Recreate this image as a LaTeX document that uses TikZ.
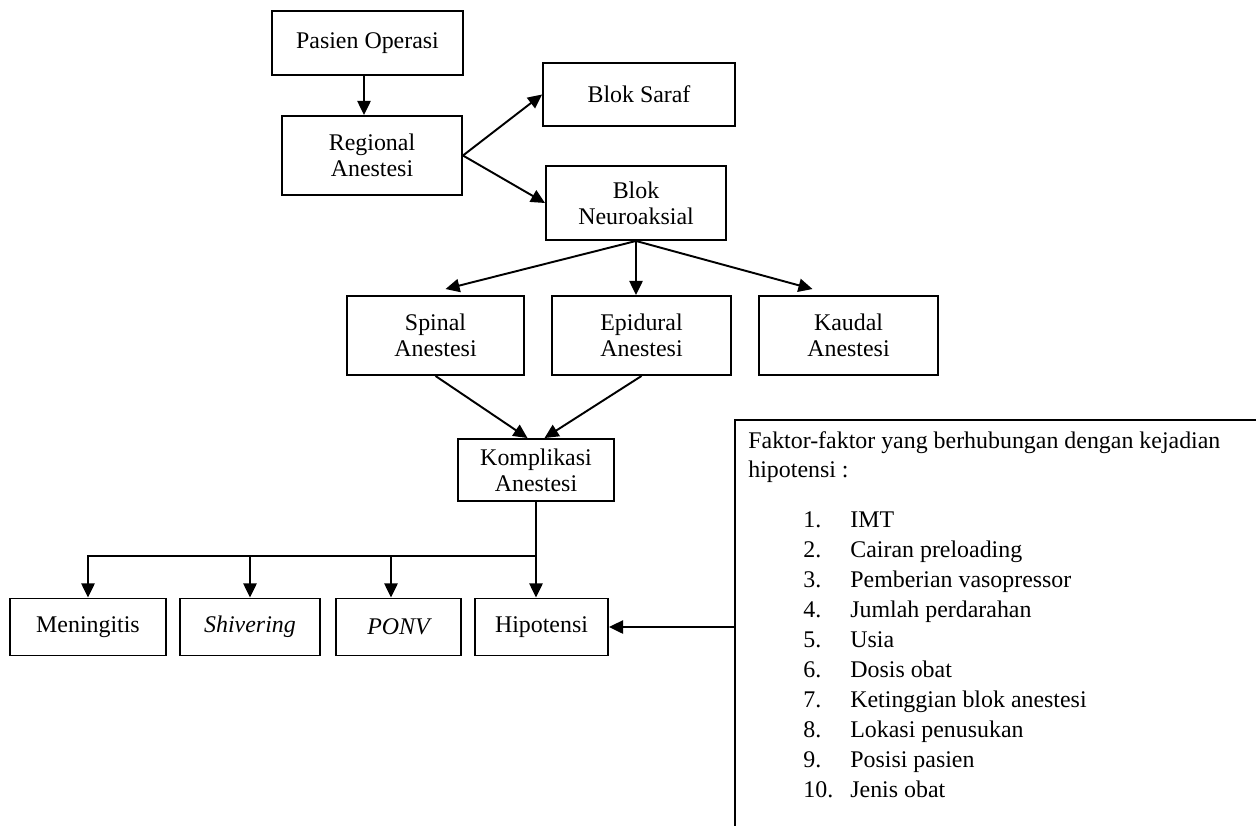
\documentclass[tikz,border=0pt]{standalone}
\usepackage{fontspec}
\setmainfont{Liberation Serif}
\usetikzlibrary{arrows.meta,positioning,calc}

\begin{document}
\begin{tikzpicture}[
  box/.style={draw, line width=1.1pt, align=center, inner sep=2pt,
              font=\fontsize{13.6}{14.8}\selectfont},
  arr/.style={-{Triangle[length=8pt,width=7.5pt]}, line width=1.1pt},
  lst/.style={anchor=base west, inner sep=0pt,
              font=\fontsize{13.6}{15}\selectfont}
]
\useasboundingbox (0,0) rectangle (25.12,-16.5);
% Upper part
\node[box, minimum width=3.82cm, minimum height=1.28cm] (pasien)
  at (7.35,-0.86) {Pasien Operasi};
\node[box, minimum width=3.6cm, minimum height=1.58cm] (regional)
  at (7.44,-3.11) {Regional\\Anestesi};
\node[box, minimum width=3.84cm, minimum height=1.26cm] (saraf)
  at (12.78,-1.89) {Blok Saraf};
\node[box, minimum width=3.6cm, minimum height=1.48cm] (neuro)
  at (12.72,-4.06) {Blok\\Neuroaksial};
% Anestesi types
\node[box, minimum width=3.54cm, minimum height=1.58cm] (spinal)
  at (8.71,-6.71) {Spinal\\Anestesi};
\node[box, minimum width=3.58cm, minimum height=1.58cm] (epidural)
  at (12.83,-6.71) {Epidural\\Anestesi};
\node[box, minimum width=3.58cm, minimum height=1.58cm] (kaudal)
  at (16.97,-6.71) {Kaudal\\Anestesi};
\node[box, minimum width=3.12cm, minimum height=1.24cm] (kompl)
  at (10.72,-9.4) {Komplikasi\\Anestesi};
% Komplikasi
\node[box, minimum width=3.12cm, minimum height=1.14cm] (mening)
  at (1.76,-12.54) {Meningitis};
\node[box, minimum width=2.8cm, minimum height=1.14cm] (shiver)
  at (5.0,-12.54) {\itshape Shivering};
\node[box, minimum width=2.5cm, minimum height=1.14cm] (ponv)
  at (7.97,-12.54) {\itshape PONV};
\node[box, minimum width=2.66cm, minimum height=1.14cm] (hipo)
  at (10.83,-12.54) {Hipotensi};
% Arrows
\draw[arr] ([xshift=-0.07cm]pasien.south) -- ([xshift=-0.07cm]pasien.south |- regional.north);
\draw[arr] (regional.east) -- (saraf.west);
\draw[arr] (regional.east) -- (neuro.west);
\draw[arr] (neuro.south) -- ([xshift=0.2cm,yshift=0.12cm]spinal.north);
\draw[arr] (neuro.south) -- (neuro.south |- epidural.north);
\draw[arr] (neuro.south) -- ([xshift=-0.72cm,yshift=0.12cm]kaudal.north);
\draw[arr] (spinal.south) -- ([xshift=-0.17cm]kompl.north);
\draw[arr] (epidural.south) -- ([xshift=0.17cm]kompl.north);
\coordinate (bus) at ($(kompl.south)+(0,-1.08)$);
\draw[arr] (kompl.south) -- (kompl.south |- hipo.north);
\draw[arr] (bus) -| (mening.north);
\draw[arr] (bus) -| (shiver.north);
\draw[arr] (bus) -| ([xshift=-0.15cm]ponv.north);
% Faktor box
\coordinate (ftop) at (14.7,-8.4);
\draw[line width=1.1pt] (25.5,-8.4) -- (ftop) -- (14.7,-17);
\draw[arr] (hipo.east -| ftop) -- (hipo.east);
\node[lst] (fk1) at (14.96,-8.96) {Faktor-faktor yang berhubungan dengan kejadian};
\node[lst] (fk2) at (14.96,-9.54) {hipotensi :};
\foreach \t [count=\i] in {IMT, Cairan preloading, Pemberian vasopressor,
    Jumlah perdarahan, Usia, Dosis obat, Ketinggian blok anestesi,
    Lokasi penusukan, Posisi pasien, Jenis obat} {
  \node[lst] (num\i) at (16.06,{-10.54-0.6*(\i-1)}) {\i.};
  \node[lst] (it\i) at (17.0,{-10.54-0.6*(\i-1)}) {\t};
}
\end{tikzpicture}
\end{document}
